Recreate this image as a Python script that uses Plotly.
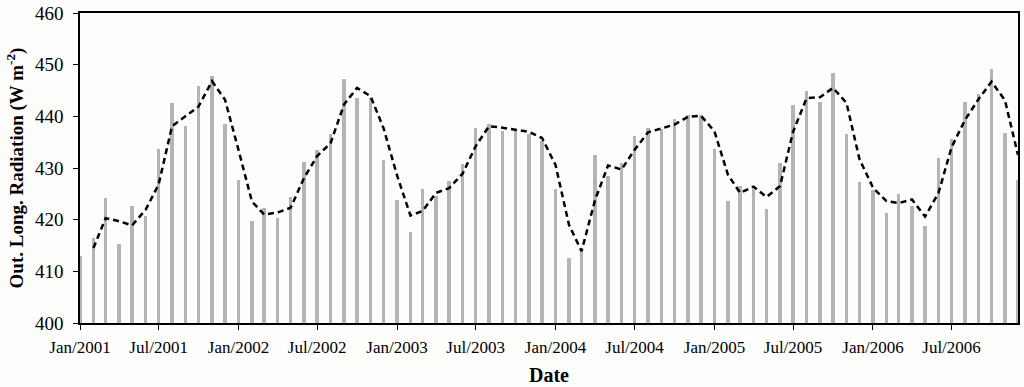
import pandas as pd
import plotly.graph_objects as go

# monthly values Jan 2001 - Dec 2006
months = pd.date_range("2001-01-01", "2006-12-01", freq="MS")

olr_2001 = [412.9, 416.5, 424.1, 415.2, 422.7, 420.8, 433.6, 442.5, 438.1, 445.8, 447.8, 438.6]
olr_2002 = [427.7, 419.7, 422.3, 420.3, 424.3, 431.2, 433.4, 436.6, 447.2, 443.5, 443.5, 431.6]
olr_2003 = [423.9, 417.7, 425.9, 424.5, 427.5, 430.8, 437.8, 438.6, 437.2, 437.3, 436.5, 435.3]
olr_2004 = [425.9, 412.5, 414.5, 432.6, 428.5, 431.0, 436.1, 437.7, 437.5, 439.4, 440.3, 440.3]
olr_2005 = [433.7, 423.7, 426.5, 425.9, 422.1, 431.0, 442.1, 445.0, 442.8, 448.3, 436.6, 427.2]
olr_2006 = [425.8, 421.3, 425.0, 422.6, 418.7, 431.9, 435.6, 442.8, 444.3, 449.2, 436.8, 427.7]

# dashed smoothed curve, starts in Feb 2001
trend_2001 = [414.5, 420.3, 419.7, 418.9, 421.9, 426.8, 438.1, 440.0, 441.9, 446.8, 443.2]
trend_2002 = [433.5, 423.5, 421.0, 421.4, 422.3, 428.1, 432.3, 434.8, 442.3, 445.5, 443.9, 437.7]
trend_2003 = [428.6, 420.8, 421.7, 425.2, 426.1, 428.9, 434.2, 438.1, 437.8, 437.4, 437.0, 435.8]
trend_2004 = [430.6, 419.0, 413.9, 423.8, 430.5, 429.7, 433.5, 436.9, 437.7, 438.4, 439.9, 440.1]
trend_2005 = [437.1, 428.7, 425.2, 426.4, 424.4, 426.5, 437.0, 443.5, 443.7, 445.5, 442.6, 431.7]
trend_2006 = [426.2, 423.6, 423.2, 423.9, 420.6, 425.2, 434.0, 439.3, 443.3, 446.7, 443.1, 432.5]

olr = olr_2001 + olr_2002 + olr_2003 + olr_2004 + olr_2005 + olr_2006
trend = trend_2001 + trend_2002 + trend_2003 + trend_2004 + trend_2005 + trend_2006

serif = "Liberation Serif, Times New Roman, serif"

fig = go.Figure()
fig.add_trace(go.Bar(x=months, y=olr, base=0,
                     width=8 * 24 * 3600 * 1000,
                     marker_color="#b5b3b3", marker_line_width=0,
                     showlegend=False))
fig.add_trace(go.Scatter(x=months[1:], y=trend, mode="lines",
                         line=dict(color="black", width=2.5, dash="6px,4px"),
                         showlegend=False))

fig.update_xaxes(range=["2001-01-01", "2006-12-01"], automargin=False,
                 dtick="M6", tick0="2001-01-01", tickformat="%b/%Y",
                 ticks="outside", ticklen=5, tickcolor="black", ticklabelstandoff=3,
                 showline=True, linecolor="black", linewidth=1.5, mirror=True,
                 showgrid=False, zeroline=False,
                 tickfont=dict(family=serif, size=17, color="black"),
                 title=dict(text="<b>Date</b>", font=dict(family=serif, size=20, color="black"), standoff=12))
fig.update_yaxes(range=[400, 460], dtick=10, automargin=False,
                 ticks="outside", ticklen=5, tickcolor="black", ticklabelstandoff=6,
                 ticklabeloverflow="allow",
                 showline=True, linecolor="black", linewidth=1.5, mirror=True,
                 showgrid=False, zeroline=False,
                 tickfont=dict(family=serif, size=19, color="black"),
                 title=dict(text="<b>Out. Long. Radiation (W m<sup>-2</sup>)</b>",
                            font=dict(family=serif, size=19, color="black"), standoff=6))
fig.update_layout(width=1024, height=387,
                  margin=dict(l=80, r=6, t=13, b=64),
                  paper_bgcolor="#fdfdfc", plot_bgcolor="#fdfdfc",
                  bargap=0)

# drop the default page margin so the figure sits at the window corner
fig.write_html("out.html", config={"displayModeBar": False},
               post_script="document.body.style.margin='0';")
